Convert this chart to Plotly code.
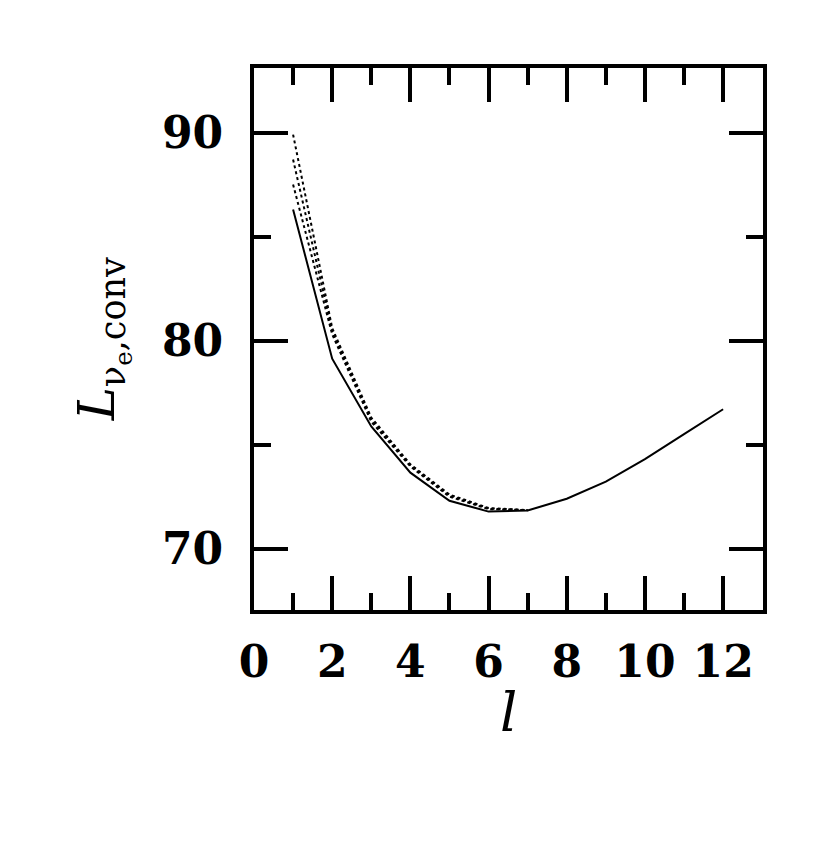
import plotly.graph_objects as go

# values
ell = [1, 2, 3, 4, 5, 6, 7, 8, 9, 10, 11, 12]
lum_solid = [86.3, 79.13, 75.87, 73.65, 72.3, 71.78, 71.83, 72.4, 73.22, 74.3, 75.5, 76.7]

ell_dot = [1, 2, 3, 4, 5, 6, 7]
lum_dot_a = [89.9, 80.6, 76.3, 74.05, 72.6, 71.95, 71.85]
lum_dot_b = [88.7, 80.45, 76.2, 74.0, 72.55, 71.92, 71.85]
lum_dot_c = [87.5, 80.3, 76.1, 73.95, 72.5, 71.9, 71.85]

x_ticks = [0, 2, 4, 6, 8, 10, 12]
x_minor = [1, 3, 5, 7, 9, 11]
y_ticks = [70, 80, 90]
y_minor = [75, 85]

fig = go.Figure()

for ys in (lum_dot_a, lum_dot_b, lum_dot_c):
    fig.add_trace(go.Scatter(x=ell_dot, y=ys, mode="lines",
                             line=dict(color="black", width=2, dash="dot"),
                             showlegend=False))

fig.add_trace(go.Scatter(x=ell, y=lum_solid, mode="lines",
                         line=dict(color="black", width=2),
                         showlegend=False))

tick_font = dict(family="DejaVu Serif", size=44, color="black", weight="bold")

axis_common = dict(
    showgrid=False, zeroline=False,
    showline=True, linecolor="black", linewidth=4,
    mirror="allticks", ticks="inside", ticklen=34, tickwidth=4,
    tickcolor="black", tickfont=tick_font,
)

fig.update_xaxes(range=[0, 13.02], tickvals=x_ticks, ticklabelstandoff=10,
                 minor=dict(tickvals=x_minor, ticks="inside", ticklen=17,
                            tickwidth=4, tickcolor="black"),
                 **axis_common)
fig.update_yaxes(range=[67.05, 93.1], tickvals=y_ticks, ticklabelstandoff=18,
                 minor=dict(tickvals=y_minor, ticks="inside", ticklen=17,
                            tickwidth=4, tickcolor="black"),
                 **axis_common)

# axis titles as annotations so they can sit exactly where the original has them
fig.add_annotation(text="<i>L</i><sub>ν<sub>e</sub>,conv</sub>",
                   xref="paper", yref="paper", x=-0.296, y=0.5,
                   xanchor="center", yanchor="middle",
                   textangle=-90, showarrow=False,
                   font=dict(family="DejaVu Serif", size=50, color="black"))
fig.add_annotation(text="<i>l</i>",
                   xref="paper", yref="paper", x=0.5, y=-0.19,
                   xanchor="center", yanchor="middle",
                   showarrow=False,
                   font=dict(family="DejaVu Serif", size=54, color="black"))

fig.update_layout(
    width=830, height=844,
    margin=dict(l=246, r=75, t=60, b=242),
    plot_bgcolor="white", paper_bgcolor="white",
)

fig.write_html("out.html")
